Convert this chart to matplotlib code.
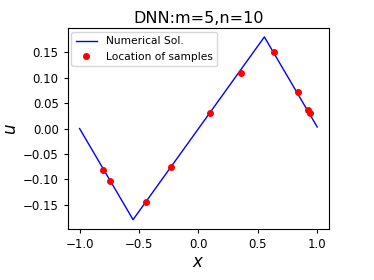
import matplotlib
matplotlib.use("Agg")
import matplotlib.pyplot as plt

line_x = [-1.0, -0.55, 0.555, 1.0]
line_u = [0.0, -0.179, 0.180, 0.003]

sample_x = [-0.802, -0.743, -0.437, -0.227, 0.10, 0.355, 0.635, 0.834, 0.924, 0.938]
sample_u = [-0.081, -0.103, -0.144, -0.075, 0.030, 0.110, 0.150, 0.071, 0.036, 0.031]

title = "DNN:m=5,n=10"

fig = plt.figure(figsize=(3.74, 2.8), dpi=100)
ax = fig.add_axes([0.181, 0.181, 0.699, 0.718])
ax.plot(line_x, line_u, color="blue", lw=1.0, label="Numerical Sol.")
ax.plot(sample_x, sample_u, "o", color="red", ms=4, label="Location of samples")
ax.set_xlim(-1.1, 1.1)
ax.set_ylim(-0.198, 0.197)
ax.set_xticks([-1.0, -0.5, 0.0, 0.5, 1.0])
ax.set_yticks([-0.15, -0.10, -0.05, 0.0, 0.05, 0.10, 0.15])
ax.tick_params(labelsize=8.5, length=3, width=0.8)
ax.set_xlabel("$x$", fontsize=12, labelpad=1)
ax.set_ylabel("$u$", fontsize=12, labelpad=2)
ax.set_title(title, fontsize=11.5, pad=4)
ax.legend(loc="upper left", fontsize=7.7, borderaxespad=0.35)
fig.savefig("out.png", dpi=100)
